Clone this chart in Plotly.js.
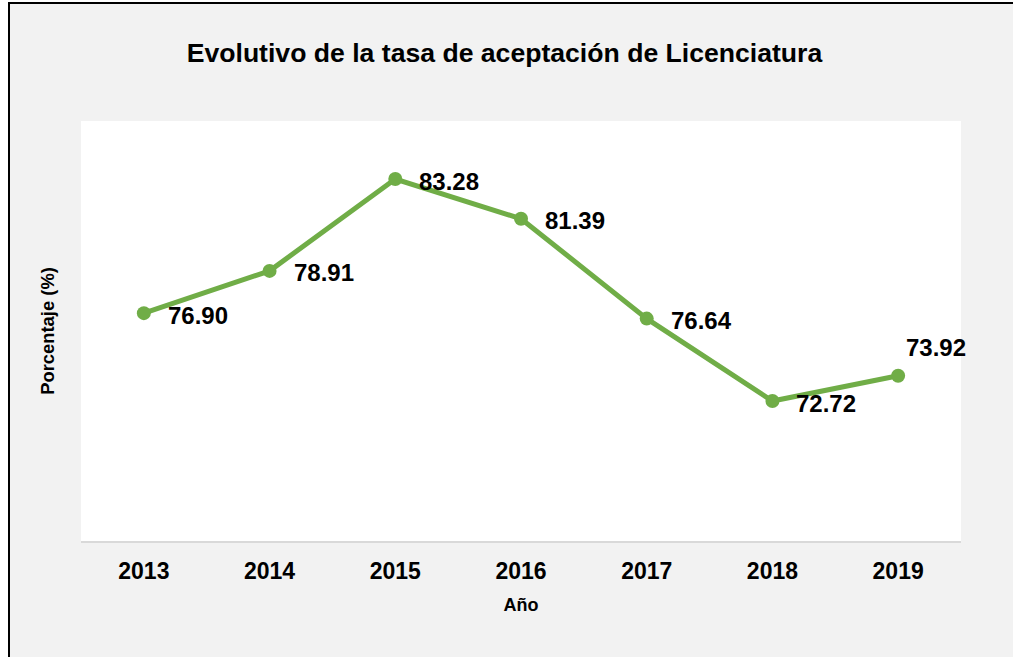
<!DOCTYPE html>
<html>
<head>
<meta charset="utf-8">
<script src="https://cdn.plot.ly/plotly-3.0.1.min.js"></script>
<style>
  html, body { margin: 0; padding: 0; background: #ffffff; }
  #frame { position: absolute; left: 8px; top: 2px; border-left: 2px solid #000; border-top: 2px solid #000; }
  #chart { width: 1003px; height: 653px; }
</style>
</head>
<body>
<div id="frame"><div id="chart"></div></div>
<script>
const years = ['2013', '2014', '2015', '2016', '2017', '2018', '2019'];
const rates = [76.90, 78.91, 83.28, 81.39, 76.64, 72.72, 73.92];

const FONT = 'Liberation Sans, Arial, sans-serif';
const GREEN = '#70ad47';

const trace = {
  type: 'scatter',
  mode: 'lines+markers',
  x: years,
  y: rates,
  line: { color: GREEN, width: 5 },
  marker: { color: GREEN, size: 14 },
  hoverinfo: 'x+y',
  cliponaxis: false
};

// category axis: annotation x given as category index
const annotations = years.map((yr, i) => {
  const last = i === years.length - 1;
  return {
    x: i, y: rates[i], xref: 'x', yref: 'y',
    text: '<b>' + rates[i].toFixed(2) + '</b>',
    showarrow: false,
    xanchor: 'left', yanchor: 'middle',
    xshift: last ? 6 : 22,
    yshift: last ? 28 : -2,
    font: { family: FONT, size: 24, color: '#000000' }
  };
});

const layout = {
  width: 1003,
  height: 653,
  paper_bgcolor: '#f2f2f2',
  plot_bgcolor: '#ffffff',
  margin: { l: 71, r: 52, t: 117, b: 116 },
  showlegend: false,
  title: {
    text: '<b>Evolutivo de la tasa de aceptación de Licenciatura</b>',
    font: { family: FONT, size: 26.6, color: '#000000' },
    xref: 'container', yref: 'container',
    x: 0.493, xanchor: 'center',
    y: 0.925, yanchor: 'middle'
  },
  xaxis: {
    type: 'category',
    range: [-0.5, 6.5],
    showline: true, linecolor: '#d9d9d9', linewidth: 2,
    showgrid: false, zeroline: false,
    ticks: 'outside', ticklen: 8, tickcolor: 'rgba(0,0,0,0)',
    tickfont: { family: FONT, size: 23, color: '#000000' },
    tickprefix: '<b>', ticksuffix: '</b>',
    title: { text: '<b>Año</b>', font: { family: FONT, size: 18, color: '#000000' }, standoff: 16 },
    fixedrange: true
  },
  yaxis: {
    range: [66.06, 86.04],
    showline: false, showgrid: false, zeroline: false,
    showticklabels: false, ticks: '',
    title: { text: '<b>Porcentaje (%)</b>', font: { family: FONT, size: 18.4, color: '#000000' }, standoff: 20 },
    fixedrange: true
  },
  annotations: annotations
};

Plotly.newPlot('chart', [trace], layout, { displayModeBar: false, responsive: false });
</script>
</body>
</html>
